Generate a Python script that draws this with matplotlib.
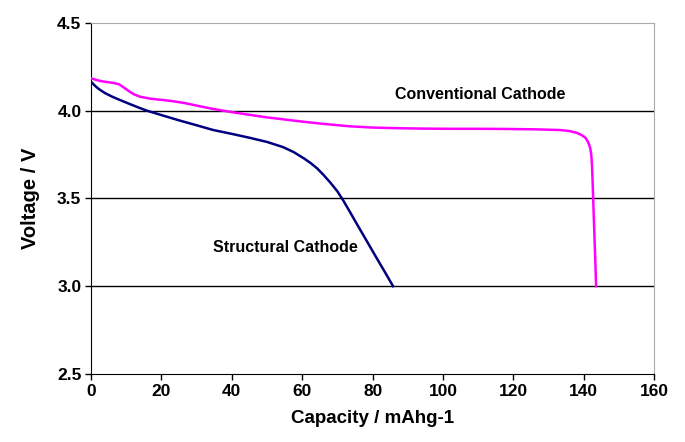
import numpy as np
import matplotlib
matplotlib.use("Agg")
import matplotlib.pyplot as plt

plt.rcParams['font.family'] = ['Liberation Sans', 'DejaVu Sans']

# Conventional cathode (magenta)
conv_cap = [0, 1.5, 3, 5, 6.5, 8, 9.1, 10.5, 12, 13.9, 17, 20.5, 24, 27, 31, 34.7, 40, 45.2, 50, 55,
            60, 66, 73.6, 80, 88, 95, 102, 110, 118, 126, 133.2, 136, 138, 139.5, 140.5, 141.2, 141.8,
            142.1, 142.3, 142.5, 142.7, 143.0, 143.3, 143.5]
conv_v = [4.185, 4.175, 4.168, 4.162, 4.158, 4.150, 4.135, 4.115, 4.095, 4.080, 4.068, 4.061, 4.052, 4.042,
          4.025, 4.010, 3.992, 3.976, 3.962, 3.950, 3.938, 3.925, 3.911, 3.904, 3.900, 3.898, 3.897, 3.897,
          3.896, 3.894, 3.890, 3.884, 3.874, 3.860, 3.845, 3.822, 3.790, 3.755, 3.70, 3.60, 3.48, 3.30,
          3.13, 3.0]

# Structural cathode (navy)
struct_cap = [0, 0.7, 1.6, 2.6, 4, 6, 8.2, 11, 13.5, 15.9, 20, 25, 30, 34.7, 40, 45.2, 50, 54.5,
              57.5, 60.5, 62.5, 64.2, 66, 68, 70, 71.6, 73.5, 75.5, 78.4, 81, 83.5, 85.8]
struct_v = [4.165, 4.15, 4.133, 4.118, 4.10, 4.08, 4.061, 4.038, 4.018, 4.0, 3.975, 3.945, 3.917, 3.89,
            3.868, 3.845, 3.822, 3.793, 3.765, 3.728, 3.70, 3.672, 3.635, 3.59, 3.54, 3.49, 3.425,
            3.355, 3.255, 3.165, 3.08, 3.0]

fig = plt.figure(figsize=(6.85, 4.42), dpi=100)
ax = fig.add_axes([0.133, 0.154, 0.822, 0.794])

for y in [3.0, 3.5, 4.0]:
    ax.axhline(y, color='black', lw=1.0, zorder=1)

ax.plot(conv_cap, conv_v, color='#FF00FF', lw=1.8, zorder=3, solid_joinstyle='round')
ax.plot(struct_cap, struct_v, color='#000080', lw=1.8, zorder=3, solid_joinstyle='round')

ax.text(86.3, 4.09, 'Conventional Cathode', fontsize=11.5, fontweight='bold', va='center')
ax.text(34.6, 3.22, 'Structural Cathode', fontsize=11.5, fontweight='bold', va='center')

ax.set_xlim(0, 160)
ax.set_ylim(2.5, 4.5)
ax.set_xticks(np.arange(0, 161, 20))
ax.set_yticks([2.5, 3.0, 3.5, 4.0, 4.5])
ax.set_yticklabels(['2.5', '3.0', '3.5', '4.0', '4.5'])
ax.tick_params(direction='out', length=4, width=1, labelsize=12.5)
ax.tick_params(axis='y', pad=3)
for lab in ax.get_xticklabels() + ax.get_yticklabels():
    lab.set_fontweight('bold')

ax.spines['left'].set_color('black')
ax.spines['bottom'].set_color('black')
ax.spines['top'].set_color('#aaaaaa')
ax.spines['right'].set_color('#aaaaaa')

ax.set_xlabel('Capacity / mAhg-1', fontsize=13.5, fontweight='bold', labelpad=8)
ax.set_ylabel('Voltage / V', fontsize=14.5, fontweight='bold', labelpad=12)

fig.savefig('out.png', dpi=100)
